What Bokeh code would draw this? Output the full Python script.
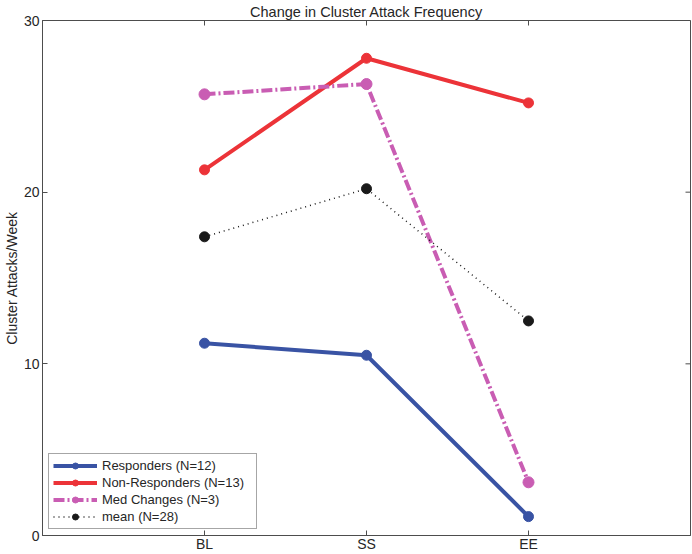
import math
from bokeh.plotting import figure
from bokeh.models import FixedTicker, Range1d, Legend, LegendItem
from bokeh.embed import file_html
from bokeh.resources import INLINE

# ---- data ----
categories = ["BL", "SS", "EE"]
responders = [11.2, 10.5, 1.1]
non_responders = [21.3, 27.8, 25.2]
med_changes = [25.7, 26.3, 3.1]
mean_all = [17.4, 20.2, 12.5]
series_names = ["Responders (N=12)", "Non-Responders (N=13)", "Med Changes (N=3)", "mean (N=28)"]
y_ticks = [0, 10, 20, 30]

x_pos = [i + 1 for i in range(len(categories))]
x_max = len(categories) + 1
y_max = 30

FONT = "Liberation Sans"
AX = "#4d4d4d"
TXT = "#262626"

p = figure(width=692, height=554, output_backend="svg", toolbar_location=None,
           x_range=Range1d(0, x_max), y_range=Range1d(0, y_max),
           title="Change in Cluster Attack Frequency",
           min_border_left=0, min_border_right=2, min_border_top=0, min_border_bottom=0)

p.title.text_font = FONT
p.title.text_font_size = "14.5px"
p.title.text_font_style = "normal"
p.title.text_color = TXT
p.title.align = "center"
p.title.standoff = 2
p.title.offset = 0

p.xgrid.visible = False
p.ygrid.visible = False
p.outline_line_color = AX
p.outline_line_width = 1
p.background_fill_color = "white"
p.border_fill_color = "white"

label_map = {x: c for x, c in zip(x_pos, categories)}

for ax in list(p.xaxis) + list(p.yaxis):
    ax.major_tick_in = 5
    ax.major_tick_out = 0
    ax.minor_tick_line_color = None
    ax.axis_line_color = AX
    ax.major_tick_line_color = AX
    ax.major_label_text_font = FONT
    ax.major_label_text_font_size = "14px"
    ax.major_label_text_color = TXT

for ax in p.xaxis:
    ax.ticker = FixedTicker(ticks=x_pos)
    ax.major_label_overrides = label_map
    ax.axis_label = None
    ax.major_label_standoff = 0
for ax in p.yaxis:
    ax.ticker = FixedTicker(ticks=y_ticks)
    ax.axis_label = "Cluster Attacks/Week"
    ax.axis_label_text_font = FONT
    ax.axis_label_text_font_size = "14px"
    ax.axis_label_text_font_style = "normal"
    ax.axis_label_text_color = TXT
    ax.axis_label_standoff = 1
    ax.major_label_standoff = 3

# inward tick marks on the top and right edges of the box (clipped half-dashes)
p.scatter(x_pos, [y_max] * len(x_pos), marker="dash", size=10, angle=math.pi / 2,
          line_color=AX, line_width=1)
p.scatter([x_max] * len(y_ticks), y_ticks, marker="dash", size=10,
          line_color=AX, line_width=1)

styles = [
    (responders, "#3953a4", 4, "solid", 10),
    (non_responders, "#ec3338", 4, "solid", 10),
    (med_changes, "#c95db3", 4, "11 3 2 3", 11),
    (mean_all, "#1a1a1a", 1.5, "1 4", 10),
]

items = []
for name, (vals, col, w, dash, ms) in zip(series_names, styles):
    r1 = p.line(x_pos, vals, line_color=col, line_width=w, line_dash=dash)
    r2 = p.scatter(x_pos, vals, marker="circle", size=ms, fill_color=col, line_color=col)
    items.append(LegendItem(label=name, renderers=[r1, r2]))

legend = Legend(items=items, location="bottom_left", margin=6, padding=4, spacing=2,
                label_height=15, glyph_height=15, glyph_width=44, label_standoff=5,
                label_width=150, label_text_font=FONT, label_text_font_size="13px",
                label_text_color=TXT, border_line_color=AX, border_line_width=1,
                background_fill_color="white", background_fill_alpha=1.0)
p.add_layout(legend)

open("out.html", "w").write(file_html(p, INLINE))
